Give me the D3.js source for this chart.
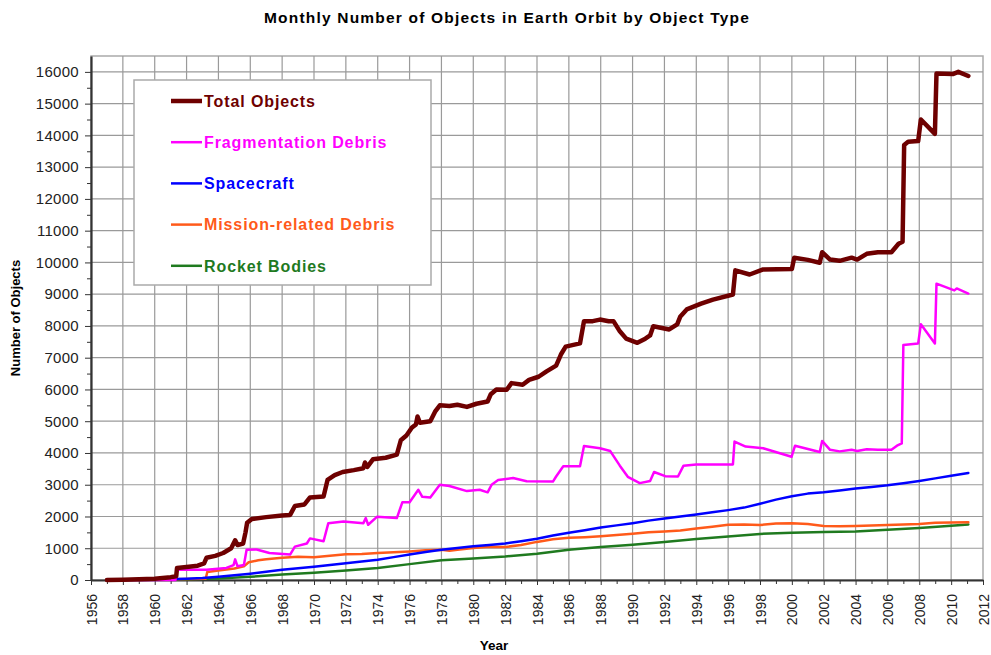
<!DOCTYPE html>
<html>
<head>
<meta charset="utf-8">
<script src="https://d3js.org/d3.v7.min.js"></script>
<style>
body {margin: 0; background: white;}
svg {font-family: "Liberation Sans", Arial, sans-serif;}
.grid line {stroke: #9a9a9a; stroke-width: 1.2;}
.axis path, .axis line {stroke: #333;}
.axis text {fill: #222;}
.series {fill: none; stroke-linejoin: round; stroke-linecap: round;}
.legend text {font-weight: bold; font-size: 16px; letter-spacing: 0.9px;}
</style>
</head>
<body>
<svg width="991" height="655"></svg>
<script>
// values: [year, count]
var totalObjects = [[1957,0],[1958,5],[1959,20],[1960,40],[1961,90],[1961.35,120],[1961.4,380],[1962,410],[1962.7,450],[1963.1,520],[1963.25,700],[1963.8,760],[1964.3,850],[1964.8,1000],[1965.05,1250],[1965.2,1100],[1965.55,1150],[1965.7,1500],[1965.8,1800],[1966.1,1920],[1967,1980],[1968,2030],[1968.5,2050],[1968.8,2330],[1969.4,2380],[1969.75,2600],[1970.6,2630],[1970.85,3150],[1971.3,3300],[1971.8,3400],[1972.5,3460],[1973.1,3520],[1973.2,3700],[1973.35,3560],[1973.7,3800],[1974.5,3850],[1975.2,3950],[1975.45,4400],[1975.8,4550],[1976.15,4800],[1976.4,4900],[1976.5,5150],[1976.65,4950],[1977.3,5000],[1977.6,5300],[1977.9,5500],[1978.5,5480],[1979,5520],[1979.6,5450],[1980.2,5550],[1980.9,5620],[1981.1,5850],[1981.45,6000],[1982.1,5990],[1982.4,6200],[1983.1,6150],[1983.5,6300],[1984.1,6400],[1984.6,6570],[1985.2,6750],[1985.5,7100],[1985.8,7350],[1986.7,7450],[1986.95,8150],[1987.5,8150],[1987.95,8200],[1988.5,8150],[1988.8,8150],[1989.2,7830],[1989.6,7600],[1990.3,7470],[1990.8,7600],[1991.1,7700],[1991.3,7990],[1992.3,7890],[1992.8,8050],[1993,8300],[1993.4,8520],[1994.3,8700],[1995.05,8830],[1996.3,8990],[1996.45,9750],[1997.35,9620],[1998.2,9780],[2000,9790],[2000.15,10150],[2001,10080],[2001.75,9990],[2001.9,10320],[2002.4,10090],[2003,10050],[2003.75,10150],[2004.1,10090],[2004.7,10270],[2005.4,10320],[2006.25,10320],[2006.7,10590],[2006.95,10650],[2007.05,13700],[2007.3,13800],[2007.93,13820],[2008.1,14500],[2008.98,14050],[2009.08,15950],[2010.1,15930],[2010.45,16000],[2011.08,15870]];

var fragDebris = [[1957,0],[1961.3,0],[1961.38,320],[1963.25,320],[1964.5,380],[1964.95,470],[1965.05,650],[1965.2,430],[1965.6,470],[1965.77,950],[1966.4,960],[1967.2,850],[1968.5,800],[1968.8,1050],[1969.55,1150],[1969.75,1310],[1970.6,1220],[1970.9,1790],[1971.85,1840],[1973.1,1790],[1973.25,1950],[1973.4,1740],[1973.95,1990],[1975.2,1950],[1975.55,2450],[1976,2450],[1976.55,2840],[1976.8,2620],[1977.3,2600],[1977.9,3000],[1978.5,2960],[1979.6,2800],[1980.4,2840],[1980.9,2760],[1981.15,3000],[1981.56,3150],[1982.5,3210],[1983.35,3110],[1985,3100],[1985.2,3260],[1985.65,3580],[1986.7,3580],[1986.95,4220],[1987.95,4150],[1988.6,4060],[1989.2,3600],[1989.7,3250],[1990.45,3050],[1991.1,3120],[1991.35,3400],[1992.05,3270],[1992.85,3260],[1993.2,3600],[1994,3640],[1996.3,3640],[1996.4,4360],[1997.1,4200],[1998.2,4150],[1999.98,3880],[2000.2,4230],[2001.75,4030],[2001.9,4380],[2002.4,4100],[2003,4050],[2003.75,4100],[2004.1,4060],[2004.7,4120],[2005.4,4100],[2006.25,4100],[2006.6,4230],[2006.9,4300],[2007,7400],[2007.93,7450],[2008.1,8050],[2008.98,7450],[2009.08,9330],[2010.2,9120],[2010.35,9180],[2011.08,9020]];

var spacecraft = [[1957,0],[1960,15],[1962,40],[1963,60],[1964,100],[1965,150],[1966,200],[1967,260],[1968,320],[1969,370],[1970,420],[1971,470],[1972,530],[1973,580],[1974,640],[1975,720],[1976,800],[1977,880],[1978,950],[1979,1010],[1980,1060],[1981,1100],[1982,1150],[1983,1220],[1984,1300],[1985,1400],[1986,1490],[1987,1570],[1988,1650],[1989,1720],[1990,1790],[1991,1870],[1992,1940],[1993,2000],[1994,2060],[1995,2130],[1996,2200],[1997,2280],[1998,2400],[1999,2530],[2000,2640],[2001,2720],[2002,2760],[2003,2820],[2004,2880],[2005,2930],[2006,2980],[2007,3050],[2008,3120],[2009,3200],[2010,3280],[2011.08,3370]];

var missionDebris = [[1957,0],[1961,20],[1963.2,40],[1963.3,250],[1964,300],[1965,360],[1965.6,430],[1965.9,560],[1966.5,620],[1967,650],[1968,700],[1969,730],[1970,720],[1971,760],[1972,810],[1973,820],[1974,850],[1975,870],[1976,900],[1977,940],[1978,950],[1978.5,920],[1979,950],[1980,1010],[1981,1050],[1982,1040],[1983,1100],[1984,1200],[1985,1280],[1986,1330],[1987,1350],[1988,1380],[1989,1420],[1990,1460],[1991,1500],[1992,1530],[1993,1560],[1994,1620],[1995,1680],[1996,1740],[1997,1750],[1998,1730],[1999,1780],[2000,1790],[2001,1760],[2002,1700],[2003,1690],[2004,1700],[2005,1720],[2006,1730],[2007,1750],[2008,1760],[2009,1800],[2010,1810],[2011.08,1820]];

var rocketBodies = [[1957,0],[1960,10],[1962,25],[1964,50],[1966,100],[1968,170],[1970,230],[1972,300],[1974,380],[1976,500],[1978,620],[1980,680],[1982,740],[1984,830],[1986,950],[1988,1040],[1990,1110],[1992,1200],[1994,1290],[1996,1370],[1998,1450],[2000,1490],[2002,1510],[2004,1530],[2006,1580],[2008,1640],[2010,1710],[2011.08,1750]];

var seriesNames = ["Total Objects", "Fragmentation Debris", "Spacecraft", "Mission-related Debris", "Rocket Bodies"];
var seriesData = [totalObjects, fragDebris, spacecraft, missionDebris, rocketBodies];
var seriesColors = ["#6e0000", "#ff00ff", "#0000ff", "#ff5a1a", "#1f7a1f"];
var seriesWidths = [4.5, 2.5, 2.5, 2.5, 2.5];

var yearTicks = d3.range(1956, 2013, 2);
var countTicks = d3.range(0, 16001, 1000);

var svg = d3.select("svg");
var margin = {left: 91, right: 8, top: 56, bottom: 75};
var width = +svg.attr("width"),
    height = +svg.attr("height");

var x = d3.scaleLinear().domain([1956, 2012]).range([margin.left, width - margin.right]);
var y = d3.scaleLinear().domain([0, 16500]).range([height - margin.bottom, margin.top]);

// title
svg.append("text")
  .attr("x", 507).attr("y", 23)
  .attr("text-anchor", "middle")
  .style("font-weight", "bold").style("font-size", "15.5px").style("letter-spacing", "1.2px")
  .text("Monthly Number of Objects in Earth Orbit by Object Type");

// plot frame
svg.append("rect")
  .attr("x", x(1956)).attr("y", y(16500))
  .attr("width", x(2012) - x(1956)).attr("height", y(0) - y(16500))
  .attr("fill", "white").attr("stroke", "#aaa").attr("stroke-width", 1.5);

var grid = svg.append("g").attr("class", "grid");
grid.selectAll(".gy").data(countTicks.slice(1)).enter().append("line")
  .attr("x1", x(1956)).attr("x2", x(2012))
  .attr("y1", d => y(d)).attr("y2", d => y(d));
grid.selectAll(".gx").data(yearTicks.slice(1, -1)).enter().append("line")
  .attr("y1", y(0)).attr("y2", y(16500))
  .attr("x1", d => x(d)).attr("x2", d => x(d));

// axes
var yAxis = svg.append("g").attr("class", "axis")
  .attr("transform", "translate(" + x(1956) + ",0)")
  .call(d3.axisLeft(y).tickValues(countTicks).tickSize(6).tickSizeOuter(0).tickFormat(d3.format("d")));
yAxis.selectAll("text").style("font-size", "15px").style("letter-spacing", "0.3px").attr("x", -12);
yAxis.select(".domain").attr("stroke-width", 2.2);

svg.append("g").attr("class", "axis")
  .attr("transform", "translate(" + x(1956) + ",0)")
  .call(d3.axisLeft(y).tickValues(d3.range(500, 16500, 1000)).tickSize(4).tickFormat(""))
  .select(".domain").remove();

var xAxis = svg.append("g").attr("class", "axis")
  .attr("transform", "translate(0," + y(0) + ")")
  .call(d3.axisBottom(x).tickValues(yearTicks).tickSize(5).tickSizeOuter(0).tickFormat(d3.format("d")));
xAxis.select(".domain").attr("stroke-width", 2.2);
xAxis.selectAll("text")
  .style("font-size", "14px")
  .attr("transform", "rotate(-90)")
  .attr("text-anchor", "end")
  .attr("x", -14).attr("y", 0).attr("dy", "0.36em");

svg.append("g").attr("class", "axis")
  .attr("transform", "translate(0," + y(0) + ")")
  .call(d3.axisBottom(x).tickValues(d3.range(1957, 2012, 2)).tickSize(4).tickFormat(""))
  .select(".domain").remove();

// axis titles
svg.append("text")
  .attr("transform", "translate(20," + ((y(0) + y(16500)) / 2) + ") rotate(-90)")
  .attr("text-anchor", "middle")
  .style("font-weight", "bold").style("font-size", "13px")
  .text("Number of Objects");
svg.append("text")
  .attr("x", 494).attr("y", 650)
  .attr("text-anchor", "middle")
  .style("font-weight", "bold").style("font-size", "13.5px")
  .text("Year");

// series, rocket bodies drawn first so total sits on top
var line = d3.line().x(d => x(d[0])).y(d => y(d[1]));
for (var i = seriesData.length - 1; i >= 0; i--) {
  svg.append("path")
    .datum(seriesData[i])
    .attr("class", "series")
    .attr("stroke", seriesColors[i])
    .attr("stroke-width", seriesWidths[i])
    .attr("d", line);
}

// legend
var legend = svg.append("g").attr("class", "legend");
legend.append("rect")
  .attr("x", 134).attr("y", 80).attr("width", 297).attr("height", 205)
  .attr("fill", "white").attr("stroke", "#aaa").attr("stroke-width", 1.5);
var rows = legend.selectAll(".row").data(seriesNames).enter().append("g")
  .attr("transform", (d, i) => "translate(0," + (101 + i * 41.2) + ")");
rows.append("line")
  .attr("x1", 171).attr("x2", 202)
  .attr("stroke", (d, i) => seriesColors[i])
  .attr("stroke-width", (d, i) => seriesWidths[i]);
rows.append("text")
  .attr("x", 204).attr("dy", "0.36em")
  .attr("fill", (d, i) => seriesColors[i])
  .text(d => d);
</script>
</body>
</html>
